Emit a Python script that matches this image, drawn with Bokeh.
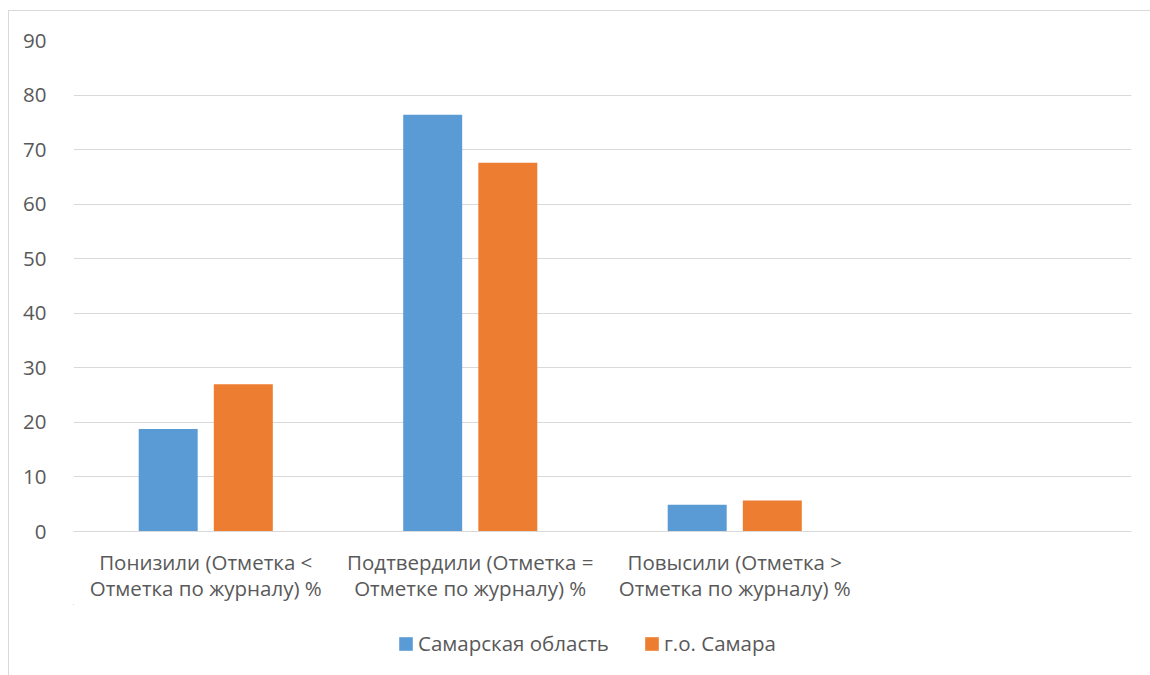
from bokeh.plotting import figure
from bokeh.layouts import column
from bokeh.models import ColumnDataSource, FixedTicker, Legend, LegendItem, Range1d
from bokeh.embed import file_html
from bokeh.resources import INLINE

categories = [
    "Понизили (Отметка <\nОтметка по журналу) %",
    "Подтвердили (Отметка =\nОтметке по журналу) %",
    "Повысили (Отметка >\nОтметка по журналу) %",
    "",
]
series_names = ["Самарская область", "г.о. Самара"]
samara_region = [18.8, 76.4, 4.9]
samara_city = [27.0, 67.6, 5.7]
y_ticks = [0, 10, 20, 30, 40, 50, 60, 70, 80, 90]

BLUE = "#5B9BD5"
ORANGE = "#ED7D31"
TEXT = "#595959"
GRID = "#D9D9D9"
FONT = "Open Sans"
FS = "20.5px"

n_slots = len(categories)
centers = [i + 0.5 for i in range(len(samara_region))]
off = 0.142
bw = 0.223

src1 = ColumnDataSource(dict(x=[c - off for c in centers], top=samara_region))
src2 = ColumnDataSource(dict(x=[c + off for c in centers], top=samara_city))

p = figure(
    width=1142, height=593,
    x_range=Range1d(0, n_slots), y_range=Range1d(0, 90),
    output_backend="svg", toolbar_location=None,
    min_border_left=64, min_border_right=20, min_border_top=29, min_border_bottom=69,
)
p.outline_line_color = None
p.background_fill_color = "white"
p.border_fill_color = "white"

p.vbar(x="x", top="top", bottom=0, width=bw, source=src1, fill_color=BLUE, line_color=None)
p.vbar(x="x", top="top", bottom=0, width=bw, source=src2, fill_color=ORANGE, line_color=None)

p.xgrid.grid_line_color = None
p.ygrid.grid_line_color = GRID
p.ygrid.grid_line_width = 1
p.ygrid.ticker = FixedTicker(ticks=y_ticks)

p.yaxis.ticker = FixedTicker(ticks=y_ticks)
p.yaxis.axis_line_color = None
p.yaxis.major_tick_line_color = None
p.yaxis.minor_tick_line_color = None
p.yaxis.major_label_text_font = FONT
p.yaxis.major_label_text_font_size = FS
p.yaxis.major_label_text_color = TEXT
p.yaxis.major_label_standoff = 21

p.xaxis.ticker = FixedTicker(ticks=centers)
p.xaxis.major_label_overrides = {c: categories[i] for i, c in enumerate(centers)}
p.xaxis.axis_line_color = GRID
p.xaxis.major_tick_line_color = None
p.xaxis.minor_tick_line_color = None
p.xaxis.major_label_text_font = FONT
p.xaxis.major_label_text_font_size = FS
p.xaxis.major_label_text_color = TEXT
p.xaxis.major_label_text_line_height = 0.93
p.xaxis.major_label_standoff = 10

# legend strip below the chart (series renderers kept far outside its visible range)
pl = figure(
    width=1142, height=72,
    x_range=Range1d(100, 101), y_range=Range1d(-200, -100),
    output_backend="svg", toolbar_location=None,
    min_border=0,
)
pl.axis.visible = False
pl.grid.grid_line_color = None
pl.outline_line_color = None
pl.background_fill_color = "white"
pl.border_fill_color = "white"
e1 = pl.vbar(x="x", top="top", bottom=0, width=bw, source=src1, fill_color=BLUE, line_color=None)
e2 = pl.vbar(x="x", top="top", bottom=0, width=bw, source=src2, fill_color=ORANGE, line_color=None)

legend = Legend(
    items=[LegendItem(label=series_names[0], renderers=[e1]),
           LegendItem(label=series_names[1], renderers=[e2])],
    orientation="horizontal",
    location=(324, 19),
    glyph_width=17, glyph_height=17,
    label_standoff=4, spacing=34, padding=0, margin=0,
    border_line_color=None, background_fill_alpha=0,
    label_text_font=FONT, label_text_font_size=FS, label_text_color=TEXT,
)
pl.add_layout(legend, "center")

layout = column(p, pl, spacing=0)
layout.margin = (10, 0, 0, 8)
layout.styles = {"border-left": "1px solid #D9D9D9", "border-top": "1px solid #D9D9D9"}

open("out.html", "w").write(file_html(layout, INLINE))
